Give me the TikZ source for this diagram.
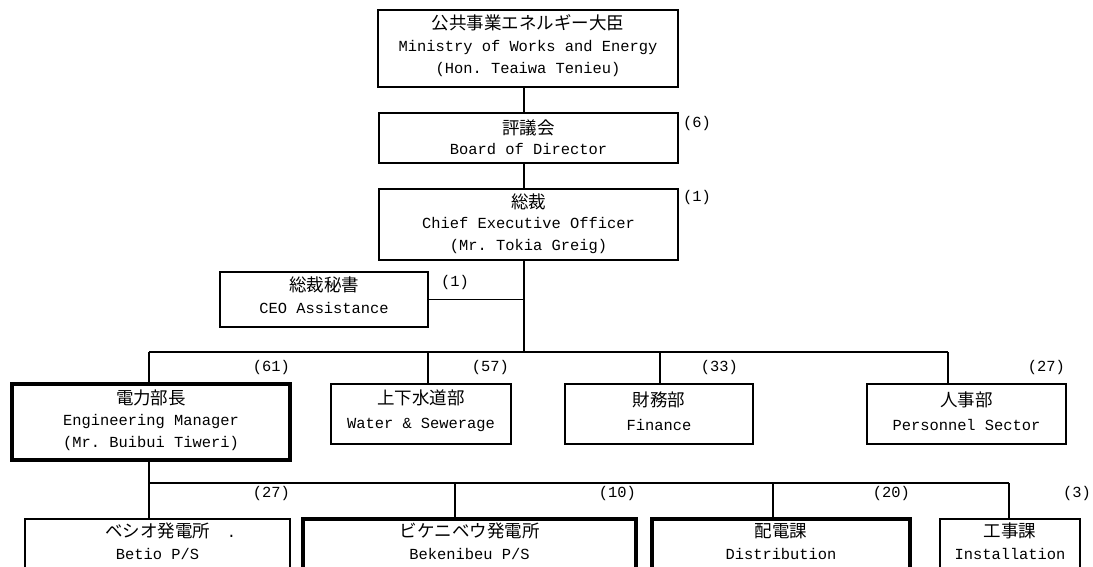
\documentclass[tikz,border=0pt]{standalone}
\usepackage{fontspec}
\setmonofont{Liberation Mono}
\newfontfamily\jpfont{Noto Sans CJK JP}
\newcommand\J[1]{{\jpfont\fontsize{17.5}{22}\selectfont #1}}
\tikzset{
  box/.style={draw, line width=1.6pt, inner sep=0pt},
  heavy/.style={box, line width=4pt},
  txt/.style={align=center, inner sep=0pt, font=\fontsize{15.4}{22}\selectfont\ttfamily},
  cnt/.style={inner sep=0pt, font=\fontsize{15.4}{18}\selectfont\ttfamily},
  wire/.style={line width=1.6pt}
}
\begin{document}
\begin{tikzpicture}[x=1pt,y=-1pt]
\useasboundingbox (0,0) rectangle (1093,567);
\clip (0,0) rectangle (1093,567);
% boxes
\node[box, minimum width=300pt, minimum height=77pt] (min) at (528,48.5) {};
\node[box, minimum width=299pt, minimum height=50pt] (board) at (528.5,138) {};
\node[box, minimum width=299pt, minimum height=71pt] (ceo) at (528.5,224.5) {};
\node[box, minimum width=208pt, minimum height=55pt] (asst) at (324,299.5) {};
\node[heavy, minimum width=278pt, minimum height=76pt] (eng) at (151,422) {};
\node[box, minimum width=180pt, minimum height=60pt] (water) at (421,414) {};
\node[box, minimum width=188pt, minimum height=60pt] (fin) at (659,414) {};
\node[box, minimum width=199pt, minimum height=60pt] (pers) at (966.5,414) {};
\node[box, minimum width=265pt, minimum height=80pt] (betio) at (157.5,559) {};
\node[heavy, minimum width=333pt, minimum height=80pt] (bek) at (469.5,559) {};
\node[heavy, minimum width=258pt, minimum height=80pt] (dist) at (781,559) {};
\node[box, minimum width=140pt, minimum height=80pt] (inst) at (1010,559) {};
% texts
\node[txt] (minT) at (528,46) {\J{公共事業エネルギー大臣}\\Ministry of Works and Energy\\(Hon. Teaiwa Tenieu)};
\node[txt] (boardT) at (528.5,137) {\J{評議会}\\[-2pt]Board of Director};
\node[txt] (ceoT) at (528.5,224) {\J{総裁}\\[-2pt]Chief Executive Officer\\(Mr. Tokia Greig)};
\node[txt] (asstT) at (324,295) {\J{総裁秘書}\\CEO Assistance};
\node[txt] (engT) at (151,420) {\J{電力部長}\\[-1pt]Engineering Manager\\(Mr. Buibui Tiweri)};
\node[txt] (waterT) at (421,411) {\J{上下水道部}\\[2pt]Water \& Sewerage};
\node[txt] (finT) at (659,411) {\J{財務部}\\[2pt]Finance};
\node[txt] (persT) at (966.5,411) {\J{人事部}\\[2pt]Personnel Sector};
\node[txt] (betioT) at (157.5,541.5) {\J{ベシオ発電所}\rlap{\hspace{1.1em}.}\\Betio P/S};
\node[txt] (bekT) at (469.5,541.5) {\J{ビケニベウ発電所}\\Bekenibeu P/S};
\node[txt] (distT) at (781,541.5) {\J{配電課}\\Distribution};
\node[txt] (instT) at (1010,541.5) {\J{工事課}\\Installation};
% counts
\node[cnt, anchor=west] (c6) at (683,124) {(6)};
\node[cnt, anchor=west] (c1) at (683,198) {(1)};
\node[cnt] (c1b) at (455,283) {(1)};
\node[cnt, anchor=east] (c61) at (290,368) {(61)};
\node[cnt, anchor=east] (c57) at (509,368) {(57)};
\node[cnt, anchor=east] (c33) at (738,368) {(33)};
\node[cnt, anchor=east] (c27) at (1065,368) {(27)};
\node[cnt, anchor=east] (c27b) at (290,494) {(27)};
\node[cnt, anchor=east] (c10) at (636,494) {(10)};
\node[cnt, anchor=east] (c20) at (910,494) {(20)};
\node[cnt, anchor=east] (c3) at (1091,494) {(3)};
% bus coordinates
\coordinate (spine) at (524,352);
\coordinate (xE) at (149,352);
\coordinate (xW) at (428,352);
\coordinate (xF) at (660,352);
\coordinate (xP) at (948,352);
\coordinate (lE) at (149,483);
\coordinate (lB) at (455,483);
\coordinate (lD) at (773,483);
\coordinate (lI) at (1009,483);
% connectors
\draw[wire] (min.south -| spine) -- (board.north -| spine);
\draw[wire] (board.south -| spine) -- (ceo.north -| spine);
\draw[wire] (ceo.south -| spine) -- (spine);
\draw[wire] (asst.east) -- (asst.east -| spine);
\draw[wire] (xE) -- (xP);
\draw[wire] (xE) -- (eng.north -| xE);
\draw[wire] (xW) -- (water.north -| xW);
\draw[wire] (xF) -- (fin.north -| xF);
\draw[wire] (xP) -- (pers.north -| xP);
\draw[wire] (eng.south -| lE) -- (lE);
\draw[wire] (lE) -- (lI);
\draw[wire] (lE) -- (betio.north -| lE);
\draw[wire] (lB) -- (bek.north -| lB);
\draw[wire] (lD) -- (dist.north -| lD);
\draw[wire] (lI) -- (inst.north -| lI);
\end{tikzpicture}
\end{document}
